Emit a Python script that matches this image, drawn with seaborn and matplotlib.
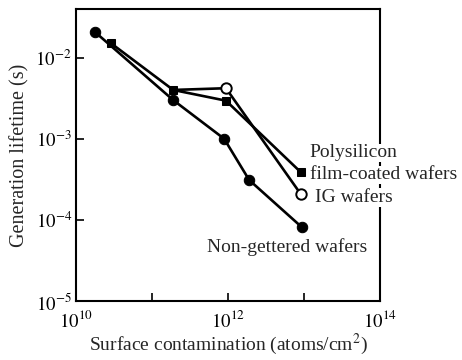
import matplotlib
matplotlib.use("Agg")
import matplotlib.pyplot as plt
import seaborn as sns
from matplotlib.ticker import FixedLocator, FixedFormatter

sns.set_theme(style="ticks")
plt.rcParams['font.family'] = ['Liberation Serif', 'DejaVu Serif']
plt.rcParams['mathtext.fontset'] = 'stix'

# Data
nong_x = [1.8e10, 1.9e11, 8.9e11, 1.9e12, 9.4e12]
nong_y = [2.05e-2, 3.0e-3, 1.0e-3, 3.1e-4, 8.1e-5]
poly_x = [2.9e10, 1.9e11, 9.4e11, 9.0e12]
poly_y = [1.5e-2, 4.0e-3, 2.95e-3, 3.9e-4]
ig_x = [1.9e11, 9.4e11, 9.0e12]
ig_y = [4.0e-3, 4.2e-3, 2.1e-4]

labels = ["Non-gettered wafers", "Polysilicon", "film-coated wafers", "IG wafers"]
xticks = [1e10, 1e11, 1e12, 1e13, 1e14]
xticklabels = [r'$10^{10}$', '', r'$10^{12}$', '', r'$10^{14}$']
yticks = [1e-5, 1e-4, 1e-3, 1e-2]
yticklabels = [r'$10^{-5}$', r'$10^{-4}$', r'$10^{-3}$', r'$10^{-2}$']

fig = plt.figure(figsize=(4.62, 3.60), dpi=100)
ax = fig.add_axes([76/462, 59/360, 304/462, 292/360])

sns.lineplot(x=nong_x, y=nong_y, ax=ax, color='black', lw=1.9, marker='o', ms=7.5,
             markerfacecolor='black', markeredgecolor='black')
sns.lineplot(x=ig_x, y=ig_y, ax=ax, color='black', lw=1.9, marker='o', ms=7.5,
             markevery=[1, 2], markerfacecolor='white', markeredgecolor='black',
             markeredgewidth=1.4)
sns.lineplot(x=poly_x, y=poly_y, ax=ax, color='black', lw=1.9, marker='s', ms=6,
             markerfacecolor='black', markeredgecolor='black')

ax.set_xscale('log')
ax.set_yscale('log')
ax.set_xlim(1e10, 1e14)
ax.set_ylim(1e-5, 10**-1.4)

ax.xaxis.set_major_locator(FixedLocator(xticks))
ax.xaxis.set_major_formatter(FixedFormatter(xticklabels))
ax.xaxis.set_minor_locator(FixedLocator([]))
ax.yaxis.set_major_locator(FixedLocator(yticks))
ax.yaxis.set_major_formatter(FixedFormatter(yticklabels))
ax.yaxis.set_minor_locator(FixedLocator([]))

ax.tick_params(axis='both', which='major', direction='in', length=6, width=1.2,
               labelsize=13.5, colors='black')
ax.tick_params(axis='y', pad=3)
ax.tick_params(axis='x', pad=6.5)
for s in ax.spines.values():
    s.set_linewidth(1.5)
    s.set_color('black')

ax.set_xlabel('Surface contamination (atoms/cm$^2$)', fontsize=14, labelpad=0.5)
ax.set_ylabel('Generation lifetime (s)', fontsize=14.5, labelpad=4)

bb = dict(fc='white', ec='none', pad=0.5)
ax.annotate(labels[1], xy=(poly_x[-1], poly_y[-1]), xytext=(9, 19),
            textcoords='offset pixels', fontsize=14, ha='left', va='center',
            annotation_clip=False, bbox=bb)
ax.annotate(labels[2], xy=(poly_x[-1], poly_y[-1]), xytext=(9, -3),
            textcoords='offset pixels', fontsize=14, ha='left', va='center',
            annotation_clip=False, bbox=bb)
ax.annotate(labels[3], xy=(ig_x[-1], ig_y[-1]), xytext=(14, -4),
            textcoords='offset pixels', fontsize=14, ha='left', va='center',
            annotation_clip=False, bbox=bb)
ax.annotate(labels[0], xy=(nong_x[-1], nong_y[-1]), xytext=(65, -20),
            textcoords='offset pixels', fontsize=14, ha='right', va='center',
            annotation_clip=False, bbox=bb)

fig.savefig('out.png', dpi=100)
